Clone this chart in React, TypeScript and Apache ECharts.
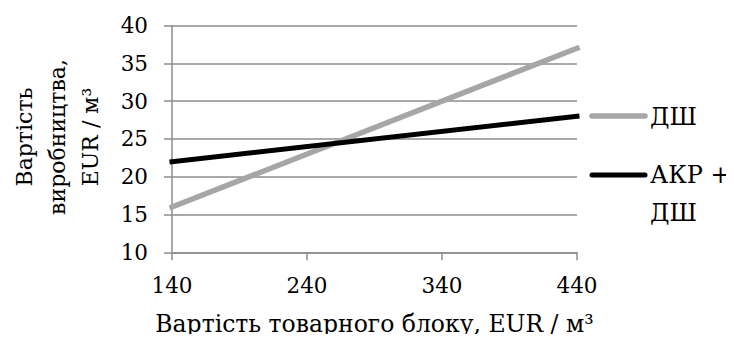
import React, { useEffect, useRef } from "react";
import * as echarts from "echarts";

const xTicks = [140, 240, 340, 440];
const seriesNames = ["ДШ", "АКР +\nДШ"];
const dshX = [140, 440];
const dshY = [16, 37];
const akrX = [140, 440];
const akrY = [22, 28];
const yTicks = [10, 15, 20, 25, 30, 35, 40];
const xName = "Вартість товарного блоку, EUR / м³";
const yNameLines = ["Вартість", "виробництва,", "EUR / м³"];

const FONT = "DejaVu Serif, serif";

export default function App() {
  const ref = useRef<HTMLDivElement>(null);
  useEffect(() => {
    if (!ref.current) return;
    const chart = echarts.init(ref.current, undefined, { renderer: "svg" });
    const gridColor = "#8c8c8c";
    chart.setOption({
      animation: false,
      backgroundColor: "#ffffff",
      textStyle: { fontFamily: FONT },
      grid: { left: 172, right: 157, top: 25.6, bottom: 89.7, containLabel: false },
      xAxis: {
        type: "value",
        min: xTicks[0],
        max: xTicks[xTicks.length - 1],
        interval: 100,
        name: xName,
        nameLocation: "middle",
        nameGap: 60,
        nameTextStyle: { fontFamily: FONT, fontSize: 23.5, color: "#000" },
        axisLine: { show: true, lineStyle: { color: gridColor, width: 1.5 } },
        axisTick: { show: true, length: 8, lineStyle: { color: gridColor, width: 1.5 } },
        axisLabel: { fontFamily: FONT, fontSize: 21.5, color: "#000", margin: 22 },
        splitLine: { show: false },
      },
      yAxis: {
        type: "value",
        min: yTicks[0],
        max: yTicks[yTicks.length - 1],
        interval: 5,
        axisLine: { show: true, lineStyle: { color: gridColor, width: 1.5 } },
        axisTick: { show: true, length: 8, lineStyle: { color: gridColor, width: 1.5 } },
        axisLabel: { fontFamily: FONT, fontSize: 21.5, color: "#000", margin: 24 },
        splitLine: { show: true, lineStyle: { color: gridColor, width: 1.5 } },
      },
      series: [
        {
          name: seriesNames[0],
          type: "line",
          data: dshX.map((x, i) => [x, dshY[i]]),
          showSymbol: false,
          lineStyle: { color: "#a6a6a6", width: 5.5, cap: "square" },
          itemStyle: { color: "#a6a6a6" },
        },
        {
          name: seriesNames[1],
          type: "line",
          data: akrX.map((x, i) => [x, akrY[i]]),
          showSymbol: false,
          lineStyle: { color: "#000000", width: 5, cap: "square" },
          itemStyle: { color: "#000000" },
        },
      ],
      graphic: [
        {
          type: "text",
          x: 57,
          y: 137,
          rotation: Math.PI / 2,
          style: {
            text: yNameLines.join("\n"),
            fontFamily: FONT,
            fontSize: 22,
            lineHeight: 33,
            fill: "#000",
            textAlign: "center",
            textVerticalAlign: "middle",
          },
        },
        {
          type: "line",
          shape: { x1: 592, y1: 116, x2: 645, y2: 116 },
          style: { stroke: "#a6a6a6", lineWidth: 5.5, lineCap: "round" },
        },
        {
          type: "text",
          x: 650,
          y: 117,
          style: {
            text: seriesNames[0],
            fontFamily: FONT,
            fontSize: 24,
            fill: "#000",
            textAlign: "left",
            textVerticalAlign: "middle",
          },
        },
        {
          type: "line",
          shape: { x1: 592, y1: 175, x2: 645, y2: 175 },
          style: { stroke: "#000", lineWidth: 5, lineCap: "round" },
        },
        {
          type: "text",
          x: 650,
          y: 175 - 19,
          style: {
            text: seriesNames[1],
            fontFamily: FONT,
            fontSize: 24,
            lineHeight: 38,
            fill: "#000",
            textAlign: "left",
            textVerticalAlign: "top",
          },
        },
      ],
    });
    return () => chart.dispose();
  }, []);
  return <div ref={ref} style={{ width: 734, height: 342, margin: -8 }} />;
}
